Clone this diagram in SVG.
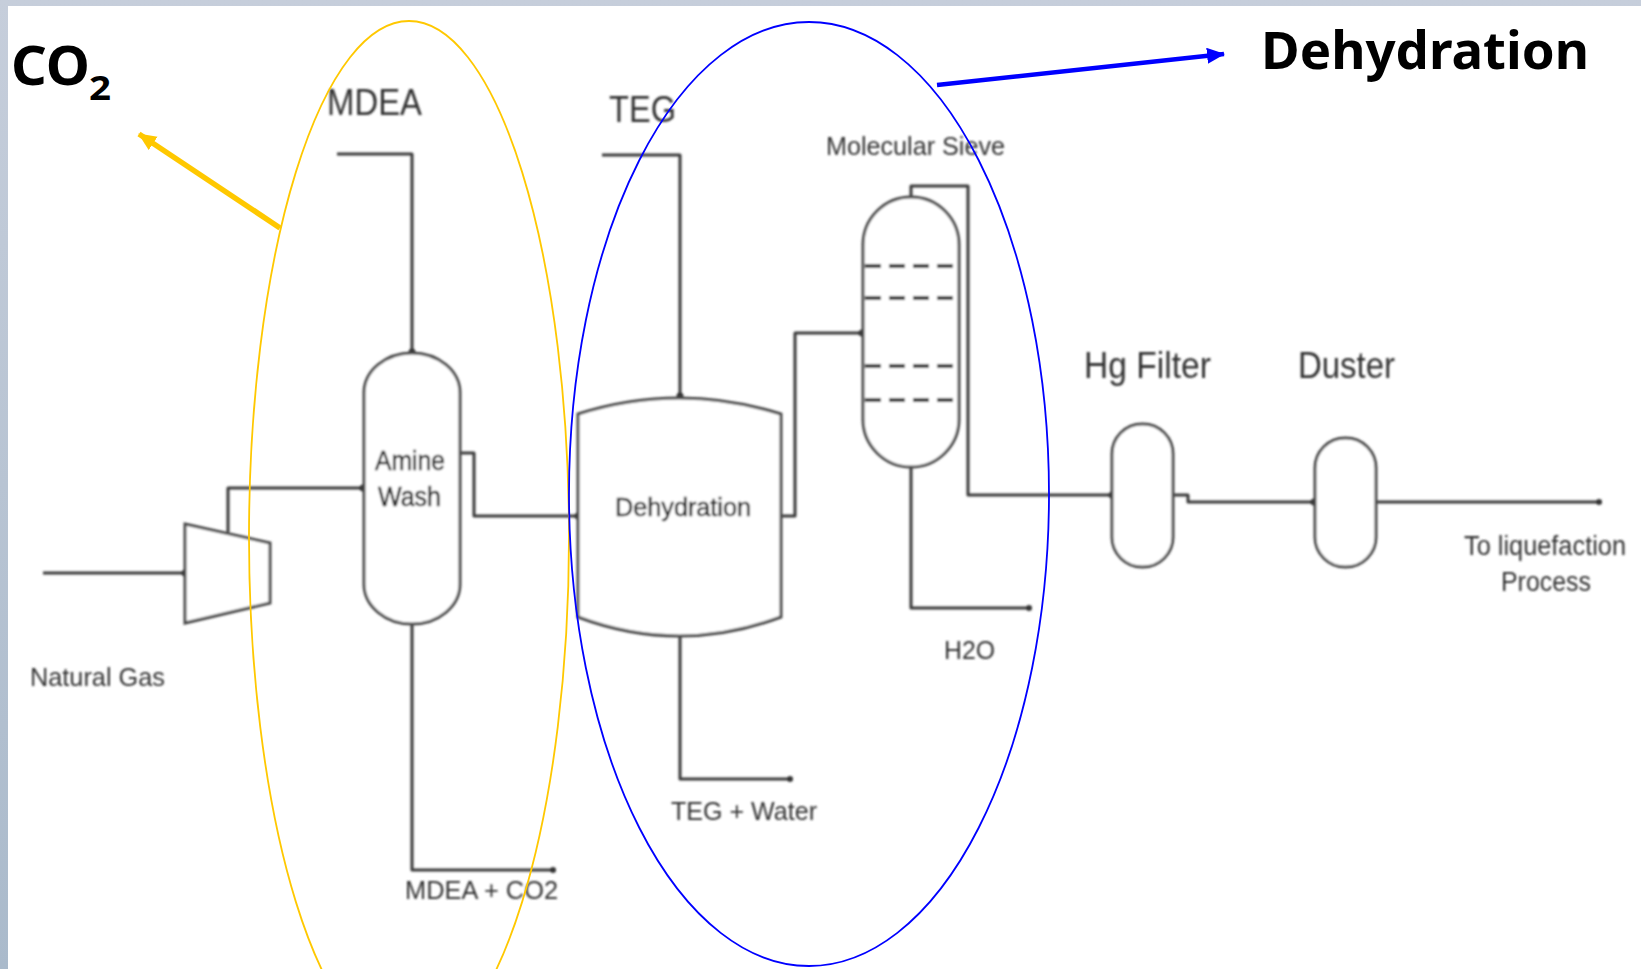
<svg xmlns="http://www.w3.org/2000/svg" width="1641" height="969" viewBox="0 0 1641 969">
<style>
.l{fill:none;stroke:#3a3a3a;stroke-width:3;stroke-linejoin:round}
.v{fill:#fff;stroke:#4a4a4a;stroke-width:3}
.t{font-family:"Liberation Sans",Arial,sans-serif;fill:#333;text-anchor:start}
.n{fill:#222;stroke:#222;stroke-width:0.5}
.b{font-family:"Noto Sans","DejaVu Sans",sans-serif;font-weight:700;fill:#000}
.d{fill:#333}
</style>
<defs>
<linearGradient id="bg" x1="0" y1="0" x2="0" y2="1"><stop offset="0" stop-color="#c6cedb"/><stop offset="1" stop-color="#aabacb"/></linearGradient>
<filter id="soft" x="-5%" y="-5%" width="110%" height="110%"><feGaussianBlur stdDeviation="0.8"/></filter>
<marker id="ya" markerUnits="userSpaceOnUse" markerWidth="20" markerHeight="18" refX="17" refY="8" orient="auto"><path d="M0 0L18 8L0 16Z" fill="#FFC800"/></marker>
<marker id="ba" markerUnits="userSpaceOnUse" markerWidth="20" markerHeight="18" refX="17" refY="8" orient="auto"><path d="M0 0L18 8L0 16Z" fill="#0000FF"/></marker>
</defs>
<rect width="1641" height="969" fill="url(#bg)"/>
<rect x="8" y="6" width="1633" height="963" fill="#fff"/>
<g filter="url(#soft)">
<g id="connectors">
<path class="l" d="M43 573H185"/>
<path class="l" d="M228 532V488H363"/>
<path class="l" d="M337 154H412V353"/>
<path class="l" d="M412 624V870H553"/>
<path class="l" d="M460 453H474V516H578"/>
<path class="l" d="M602 155H680V397"/>
<path class="l" d="M680 636V779H790"/>
<path class="l" d="M781 516H795V333H862"/>
<path class="l" d="M911 197V186H968V495H1112"/>
<path class="l" d="M911 467V608H1029"/>
<path class="l" d="M1173 495H1188V502H1314"/>
<path class="l" d="M1376 502H1599"/>
<g class="d"><circle cx="185" cy="573" r="3.5"/><circle cx="363" cy="488" r="3.5"/><circle cx="412" cy="352" r="3.5"/><circle cx="553" cy="870" r="3"/><circle cx="578" cy="516" r="3.5"/><circle cx="680" cy="396" r="3.5"/><circle cx="790" cy="779" r="3"/><circle cx="862" cy="333" r="3.5"/><circle cx="1029" cy="608" r="3"/><circle cx="1112" cy="495" r="3.5"/><circle cx="1314" cy="502" r="3.5"/><circle cx="1599" cy="502" r="3"/></g>
</g>
<g id="compressor"><path class="v" d="M185 524L270 543V603L185 623Z"/></g>
<g id="amine-wash"><rect class="v" x="364" y="353" width="96" height="271" rx="48" ry="40"/>
<text class="t n" x="375" y="470" font-size="27" textLength="70" lengthAdjust="spacingAndGlyphs">Amine</text>
<text class="t n" x="378" y="506" font-size="27" textLength="63" lengthAdjust="spacingAndGlyphs">Wash</text></g>
<g id="dehydration-vessel"><path class="v" d="M578 414Q679 382 781 414V617Q679 655 578 617Z"/>
<text class="t n" x="615" y="516" font-size="26" textLength="136" lengthAdjust="spacingAndGlyphs">Dehydration</text></g>
<g id="molecular-sieve"><rect class="v" x="863" y="197" width="96" height="270" rx="48" ry="48"/>
<path d="M863 266H959M863 298H959M863 366H959M863 400H959" fill="none" stroke="#333" stroke-width="4" stroke-dasharray="16 8" stroke-dashoffset="-2"/>
<text class="t" x="826" y="155" font-size="25" textLength="179" lengthAdjust="spacingAndGlyphs">Molecular Sieve</text></g>
<g id="hg-filter"><rect class="v" x="1112" y="424" width="61" height="143" rx="30" ry="30"/>
<text class="t" x="1084" y="378" font-size="36" textLength="127" lengthAdjust="spacingAndGlyphs">Hg Filter</text></g>
<g id="duster"><rect class="v" x="1315" y="438" width="61" height="129" rx="30" ry="30"/>
<text class="t" x="1298" y="378" font-size="36" textLength="97" lengthAdjust="spacingAndGlyphs">Duster</text></g>
<text class="t" x="327" y="115" font-size="36" textLength="95" lengthAdjust="spacingAndGlyphs">MDEA</text>
<text class="t" x="609" y="122" font-size="36" textLength="67" lengthAdjust="spacingAndGlyphs">TEG</text>
<text class="t" x="30" y="686" font-size="26" textLength="135" lengthAdjust="spacingAndGlyphs">Natural Gas</text>
<text class="t" x="944" y="659" font-size="26" textLength="51" lengthAdjust="spacingAndGlyphs">H2O</text>
<text class="t" x="671" y="820" font-size="26" textLength="146" lengthAdjust="spacingAndGlyphs">TEG + Water</text>
<text class="t" x="405" y="899" font-size="26" textLength="153" lengthAdjust="spacingAndGlyphs">MDEA + CO2</text>
<text class="t" x="1464" y="555" font-size="27" textLength="162" lengthAdjust="spacingAndGlyphs">To liquefaction</text>
<text class="t" x="1501" y="591" font-size="27" textLength="90" lengthAdjust="spacingAndGlyphs">Process</text>
</g>
<g id="co2-group">
<ellipse cx="409" cy="537" rx="160" ry="516" fill="none" stroke="#FFC800" stroke-width="1.8"/>
<path d="M280 228L139 134" fill="none" stroke="#FFC800" stroke-width="5.5" marker-end="url(#ya)"/>
<text class="b" x="11" y="85" font-size="54" textLength="79" lengthAdjust="spacingAndGlyphs">CO</text>
<text class="b" x="89" y="100" font-size="34" textLength="22" lengthAdjust="spacingAndGlyphs">2</text>
</g>
<g id="dehydration-group">
<ellipse cx="809" cy="494" rx="240" ry="472" fill="none" stroke="#0000FF" stroke-width="1.8"/>
<path d="M937 85L1224 54" fill="none" stroke="#0000FF" stroke-width="4.5" marker-end="url(#ba)"/>
<text class="b" x="1261" y="69" font-size="52" textLength="328" lengthAdjust="spacingAndGlyphs">Dehydration</text>
</g>
</svg>
